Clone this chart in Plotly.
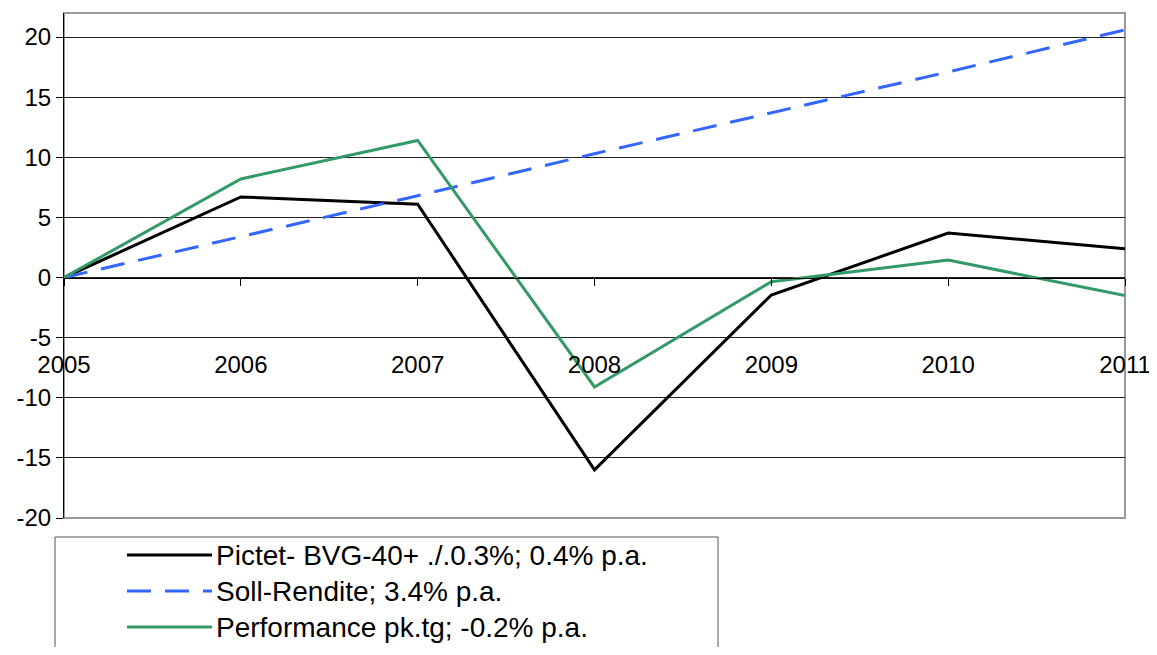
import plotly.graph_objects as go

years = [2005, 2006, 2007, 2008, 2009, 2010, 2011]
pictet = [0, 6.7, 6.1, -16.0, -1.45, 3.7, 2.4]
soll = [0, 3.4, 6.8, 10.3, 13.7, 17.1, 20.6]
perf = [0, 8.2, 11.4, -9.1, -0.35, 1.45, -1.5]
names = ["Pictet- BVG-40+ ./.0.3%; 0.4% p.a.", "Soll-Rendite; 3.4% p.a.", "Performance pk.tg; -0.2% p.a."]
colors = ["#000000", "#3366FF", "#339966"]
dashes = ["solid", "24px,14px", "solid"]
y_ticks = [-20, -15, -10, -5, 0, 5, 10, 15, 20]
y_ticktext = ["-20", "-15", "-10", "-5", "0", "5", "10", "15", "20"]

# page body has an 8px margin; positions below are target screen pixels
OFF = 8
W, H = 1149, 639
L, R, T, B = 64, 1125, 13, 518
FONT = "Liberation Sans, Arial, sans-serif"

fig = go.Figure()
for vals, nm, c, d in zip([pictet, soll, perf], names, colors, dashes):
    fig.add_trace(go.Scatter(x=years, y=vals, mode="lines", name=nm,
                             line=dict(color=c, width=3, dash=d), showlegend=False))

def px_x(x):
    return (x - L) / (R - L)

def px_y(y):
    return (B - y) / (B - T)

shapes = [
    dict(type="rect", xref="paper", yref="paper", x0=0, x1=1, y0=0, y1=1,
         line=dict(color="#999999", width=2), layer="below"),
    dict(type="rect", xref="paper", yref="paper", x0=px_x(55), x1=px_x(718),
         y0=px_y(537), y1=px_y(700), line=dict(color="#555555", width=1), layer="above"),
]
annotations = []
rows = [555, 591, 627]
for nm, c, d, ry in zip(names, colors, dashes, rows):
    shapes.append(dict(type="line", xref="paper", yref="paper", x0=px_x(127), x1=px_x(212),
                       y0=px_y(ry), y1=px_y(ry), line=dict(color=c, width=3, dash=d)))
    annotations.append(dict(xref="paper", yref="paper", x=px_x(214), y=px_y(ry), text=nm,
                            showarrow=False, xanchor="left", yanchor="middle",
                            font=dict(family=FONT, size=28, color="#000000")))

fig.update_layout(
    width=W, height=H,
    margin=dict(l=L - OFF, r=W + OFF - R, t=T - OFF, b=H + OFF - B),
    paper_bgcolor="white", plot_bgcolor="white",
    shapes=shapes, annotations=annotations,
    font=dict(family=FONT, color="#000000"),
    xaxis=dict(range=[2005, 2011], tickvals=years, ticktext=[str(y) for y in years],
               automargin=False,
               showgrid=False, zeroline=False, anchor="free", position=(B - 277.5) / (B - T),
               showline=True, linecolor="#000000", linewidth=1,
               ticks="outside", ticklen=7, tickcolor="#000000", ticklabeloverflow="allow",
               ticklabelstandoff=59, tickfont=dict(family=FONT, size=24, color="#000000")),
    yaxis=dict(range=[-20, 22], tickvals=y_ticks, ticktext=y_ticktext, automargin=False,
               showgrid=True, gridcolor="#222222", gridwidth=1,
               zeroline=False, showline=True, linecolor="#000000", linewidth=1,
               ticks="outside", ticklen=7, tickcolor="#000000",
               tickfont=dict(family=FONT, size=24, color="#000000")),
)

fig.write_html("out.html")
